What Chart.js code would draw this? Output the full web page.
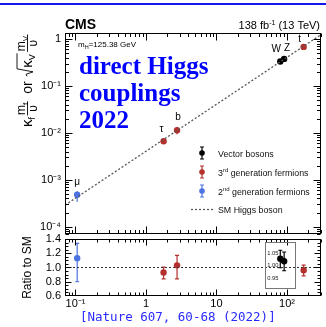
<!DOCTYPE html>
<html>
<head>
<meta charset="utf-8">
<script src="https://cdn.jsdelivr.net/npm/chart.js@4.4.0/dist/chart.umd.min.js"></script>
<style>
  body { margin: 0; background: #fff; width: 326px; height: 327px; overflow: hidden; position: relative; }
  #topline { position: absolute; left: 0; top: 3px; width: 326px; height: 2px; background: #1515f0; }
  #main { position: absolute; left: 0; top: 0; }
  #ratio { position: absolute; left: 0; top: 228px; }
  #note { position: absolute; left: 79px; top: 52px; color: #0000ff; font-family: "Liberation Serif", serif;
          font-weight: bold; font-size: 25px; line-height: 27px; }
  #ref { position: absolute; left: 80px; top: 310px; color: #2a2aff; font-family: "DejaVu Sans Mono", monospace;
         font-size: 12.5px; line-height: 14px; white-space: pre; }
</style>
</head>
<body>
<div id="topline"></div>
<canvas id="main" width="326" height="247"></canvas>
<canvas id="ratio" width="326" height="99"></canvas>
<div id="note">direct Higgs<br>couplings<br>2022</div>
<div id="ref">[Nature 607, 60-68 (2022)]</div>
<script>
// values (mass in GeV)
const vecNames = ['W', 'Z'];
const vecMass = [80.4, 91.2];
const vecCoupling = [0.330, 0.376];
const vecRatio = [1.028, 1.018];
const vecErrUp = [0.034, 0.037];
const vecErrDown = [0.036, 0.038];

const gen3Names = ['τ', 'b', 't'];
const gen3Mass = [1.777, 2.76, 172.5];
const gen3Coupling = [0.0066, 0.0114, 0.677];
const gen3Ratio = [0.93, 1.03, 0.962];
const gen3ErrUp = [0.075, 0.14, 0.07];
const gen3ErrDown = [0.09, 0.19, 0.08];

const gen2Names = ['μ'];
const gen2Mass = [0.1057];
const gen2Coupling = [0.00048];
const gen2Ratio = [1.13];
const gen2ErrUp = [0.21];
const gen2ErrDown = [0.33];

const smMass = [0.071, 304];
const smCoupling = [0.000288, 1.235];

const xTickLabels = { '-1': '10⁻¹', '0': '1', '1': '10', '2': '10²' };
const yTickLabels = { '-4': '10⁻⁴', '-3': '10⁻³', '-2': '10⁻²', '-1': '10⁻¹', '0': '1' };
const ratioTicks = [0.6, 0.8, 1.0, 1.2, 1.4];
const insetTicks = [0.95, 1.00, 1.05];

const X_MIN = 0.071, X_MAX = 304;
const Y_MIN = 7.5e-5, Y_MAX = 1.34;

const BLACK = '#000000', RED = '#b3302c', BLUE = '#4a72e0';
const SANS = '"Liberation Sans", Arial, sans-serif';
const font = (size, weight) => (weight ? weight + ' ' : '') + size + 'px ' + SANS;

function powerLabel(table) {
  return function (v) {
    const l = Math.log10(v), e = Math.round(l);
    if (Math.abs(l - e) > 1e-6) return '';
    return table[String(e)] || '';
  };
}

function points(mass, vals) {
  return mass.map((m, i) => ({ x: m, y: vals[i] }));
}

function logTicks(min, max) {
  const out = [];
  for (let e = Math.floor(Math.log10(min)); e <= Math.ceil(Math.log10(max)); e++) {
    for (let k = 1; k <= 9; k++) {
      const v = k * Math.pow(10, e);
      if (v > min && v < max) out.push({ v, major: k === 1 });
    }
  }
  return out;
}

// draws a run of text pieces with different sizes / raise
function richText(ctx, x, y, parts) {
  let u = x;
  parts.forEach(p => {
    ctx.font = font(p.s, p.w);
    ctx.fillText(p.t, u, y + (p.dy || 0));
    u += ctx.measureText(p.t).width;
  });
  return u;
}
function richWidth(ctx, parts) {
  let w = 0;
  parts.forEach(p => { ctx.font = font(p.s, p.w); w += ctx.measureText(p.t).width; });
  return w;
}

// frame with ROOT style inward ticks on the four sides
function framePlugin(cfg) {
  return {
    id: 'frame',
    afterDatasetsDraw(chart) {
      const { ctx, chartArea: a, scales } = chart;
      const L = Math.round(a.left) + 0.5, R = Math.round(a.right) - 0.5;
      const T = Math.round(a.top) + 0.5, B = Math.round(a.bottom) - 0.5;
      ctx.save();
      ctx.strokeStyle = BLACK;
      ctx.lineWidth = 1;
      ctx.strokeRect(L, T, R - L, B - T);
      ctx.beginPath();
      logTicks(scales.x.min, scales.x.max).forEach(t => {
        const px = Math.round(scales.x.getPixelForValue(t.v)) + 0.5;
        const len = t.major ? cfg.xMajor : cfg.xMinor;
        ctx.moveTo(px, B); ctx.lineTo(px, B - len);
        ctx.moveTo(px, T); ctx.lineTo(px, T + len);
      });
      cfg.yTicks(scales.y).forEach(t => {
        const py = Math.round(scales.y.getPixelForValue(t.v)) + 0.5;
        const len = t.major ? cfg.yMajor : cfg.yMinor;
        ctx.moveTo(L, py); ctx.lineTo(L + len, py);
        ctx.moveTo(R, py); ctx.lineTo(R - len, py);
      });
      ctx.stroke();
      ctx.restore();
    }
  };
}

const errorBars = {
  id: 'errorBars',
  beforeDatasetsDraw(chart) {
    const { ctx } = chart;
    chart.data.datasets.forEach((ds, i) => {
      if (!ds.errLo) return;
      const meta = chart.getDatasetMeta(i);
      const xs = chart.scales[meta.xAxisID], ys = chart.scales[meta.yAxisID];
      ctx.save();
      ctx.strokeStyle = ds.backgroundColor;
      ctx.lineWidth = 1.2;
      ds.data.forEach((p, j) => {
        const px = xs.getPixelForValue(p.x);
        const y1 = ys.getPixelForValue(ds.errHi[j]);
        const y2 = ys.getPixelForValue(ds.errLo[j]);
        ctx.beginPath();
        ctx.moveTo(px, y1); ctx.lineTo(px, y2);
        if (ds.caps) {
          ctx.moveTo(px - 2, y1); ctx.lineTo(px + 2, y1);
          ctx.moveTo(px - 2, y2); ctx.lineTo(px + 2, y2);
        }
        ctx.stroke();
      });
      ctx.restore();
    });
  }
};

const labelOffset = { 'μ': [0, -13], 'τ': [-2, -12], 'b': [1, -13], 'W': [-4, -12], 'Z': [3, -11], 't': [-4, -8] };
const pointNames = {
  id: 'pointNames',
  afterDatasetsDraw(chart) {
    const { ctx } = chart;
    ctx.save();
    ctx.fillStyle = BLACK;
    ctx.font = font(10);
    ctx.textAlign = 'center';
    ctx.textBaseline = 'middle';
    chart.data.datasets.forEach((ds, i) => {
      if (!ds.names) return;
      const meta = chart.getDatasetMeta(i);
      ds.names.forEach((n, j) => {
        const el = meta.data[j];
        const o = labelOffset[n] || [0, -12];
        ctx.fillText(n, el.x + o[0], el.y + o[1]);
      });
    });
    ctx.restore();
  }
};

function drawYTitle(ctx) {
  ctx.save();
  ctx.translate(26, 127);
  ctx.rotate(-Math.PI / 2);
  ctx.fillStyle = BLACK;
  ctx.strokeStyle = BLACK;
  ctx.lineWidth = 0.9;
  ctx.textBaseline = 'alphabetic';
  let u = 0;
  const frac = (sub) => {
    ctx.font = font(12);
    const wm = ctx.measureText('m').width;
    ctx.font = font(8);
    const ws = ctx.measureText(sub).width;
    const w = wm + ws + 1;
    ctx.font = font(12);
    ctx.fillText('m', u, -1);
    ctx.font = font(8);
    ctx.fillText(sub, u + wm, 1.5);
    ctx.beginPath(); ctx.moveTo(u - 0.5, 1.5); ctx.lineTo(u + w + 0.5, 1.5); ctx.stroke();
    ctx.font = font(12);
    const wu = ctx.measureText('υ').width;
    ctx.fillText('υ', u + (w - wu) / 2, 10.5);
    u += w;
  };
  ctx.font = font(15); ctx.fillText('κ', u, 6); u += ctx.measureText('κ').width;
  ctx.font = font(9); ctx.fillText('f', u, 9); u += ctx.measureText('f').width + 2;
  frac('f');
  u += 8;
  ctx.font = font(14); ctx.fillText('or', u, 6); u += ctx.measureText('or').width + 5;
  // square root of kappa_V
  const r0 = u;
  ctx.font = font(15);
  const wk = ctx.measureText('κ').width;
  ctx.font = font(9);
  const wv = ctx.measureText('V').width;
  ctx.beginPath();
  ctx.moveTo(r0, 1); ctx.lineTo(r0 + 2, 0); ctx.lineTo(r0 + 4.5, 7); ctx.lineTo(r0 + 7.5, -9);
  ctx.lineTo(r0 + 8 + wk + wv + 1.5, -9);
  ctx.stroke();
  u = r0 + 8.5;
  ctx.font = font(15); ctx.fillText('κ', u, 6); u += wk;
  ctx.font = font(9); ctx.fillText('V', u, 9); u += wv + 3;
  frac('V');
  ctx.restore();
}

const mainTexts = {
  id: 'mainTexts',
  afterDraw(chart) {
    const { ctx, chartArea: a } = chart;
    ctx.save();
    ctx.fillStyle = BLACK;
    ctx.textBaseline = 'alphabetic';
    ctx.textAlign = 'left';
    ctx.font = font(14, 'bold');
    ctx.fillText('CMS', a.left, a.top - 4);
    const lumi = [{ t: '138 fb', s: 11 }, { t: '-1', s: 7, dy: -4.5 }, { t: ' (13 TeV)', s: 11 }];
    richText(ctx, a.right - 1 - richWidth(ctx, lumi), a.top - 4, lumi);
    richText(ctx, a.left + 13, a.top + 14, [{ t: 'm', s: 8 }, { t: 'H', s: 5.5, dy: 1.5 }, { t: '=125.38 GeV', s: 8 }]);
    drawYTitle(ctx);

    // legend
    const fs = 8.8;
    const rows = [
      { c: BLACK, parts: [{ t: 'Vector bosons', s: fs }] },
      { c: RED, parts: [{ t: '3', s: fs }, { t: 'rd', s: 6, dy: -3.5 }, { t: ' generation fermions', s: fs }] },
      { c: BLUE, parts: [{ t: '2', s: fs }, { t: 'nd', s: 6, dy: -3.5 }, { t: ' generation fermions', s: fs }] }
    ];
    const mx = 202, tx = 218;
    rows.forEach((r, i) => {
      const y = 153 + i * 19;
      ctx.strokeStyle = r.c; ctx.fillStyle = r.c; ctx.lineWidth = 1.2;
      ctx.beginPath();
      ctx.moveTo(mx, y - 6); ctx.lineTo(mx, y + 6);
      ctx.moveTo(mx - 2, y - 6); ctx.lineTo(mx + 2, y - 6);
      ctx.moveTo(mx - 2, y + 6); ctx.lineTo(mx + 2, y + 6);
      ctx.stroke();
      ctx.beginPath(); ctx.arc(mx, y, 2.8, 0, 2 * Math.PI); ctx.fill();
      ctx.fillStyle = '#111';
      richText(ctx, tx, y + 3.5, r.parts);
    });
    const ly = 209.5;
    ctx.strokeStyle = '#555'; ctx.lineWidth = 1.2; ctx.setLineDash([2, 2]);
    ctx.beginPath(); ctx.moveTo(191, ly); ctx.lineTo(213, ly); ctx.stroke();
    ctx.setLineDash([]);
    ctx.fillStyle = '#111';
    richText(ctx, tx, ly + 3.5, [{ t: 'SM Higgs boson', s: fs }]);
    ctx.restore();
  }
};

function withErr(mass, vals, ratio, up, down, scaleToVals) {
  return {
    data: points(mass, vals),
    errHi: vals.map((v, i) => scaleToVals ? v * (ratio[i] + up[i]) / ratio[i] : v + up[i]),
    errLo: vals.map((v, i) => scaleToVals ? v * (ratio[i] - down[i]) / ratio[i] : v - down[i])
  };
}

function pointSet(color, names, parts, extra) {
  return Object.assign({
    type: 'scatter', names, backgroundColor: color, borderColor: color, borderWidth: 0,
    pointRadius: 3.2, pointHoverRadius: 3.2
  }, parts, extra || {});
}

// ---------- main panel ----------
new Chart(document.getElementById('main'), {
  type: 'scatter',
  data: {
    datasets: [
      {
        type: 'line', data: points(smMass, smCoupling), borderColor: '#555', borderWidth: 1.3,
        borderDash: [2, 2], pointRadius: 0, fill: false, tension: 0
      },
      pointSet(BLACK, vecNames, withErr(vecMass, vecCoupling, vecRatio, vecErrUp, vecErrDown, true)),
      pointSet(RED, gen3Names, withErr(gen3Mass, gen3Coupling, gen3Ratio, gen3ErrUp, gen3ErrDown, true)),
      pointSet(BLUE, gen2Names, withErr(gen2Mass, gen2Coupling, gen2Ratio, gen2ErrUp, gen2ErrDown, true))
    ]
  },
  options: {
    responsive: false, animation: false, devicePixelRatio: 1,
    layout: { padding: { left: 0, top: 33, right: 5, bottom: 13 } },
    plugins: { legend: { display: false }, tooltip: { enabled: false } },
    scales: {
      x: { type: 'logarithmic', min: X_MIN, max: X_MAX, display: false },
      y: {
        type: 'logarithmic', min: Y_MIN, max: Y_MAX,
        afterFit(s) { s.width = 65; },
        grid: { display: false, drawTicks: false }, border: { display: false },
        ticks: { autoSkip: false, padding: 4, color: BLACK, font: { size: 11, family: SANS }, callback: powerLabel(yTickLabels) }
      }
    }
  },
  plugins: [errorBars, framePlugin({
    xMajor: 7, xMinor: 3.5, yMajor: 7, yMinor: 3.5,
    yTicks: s => logTicks(s.min, s.max)
  }), pointNames, mainTexts]
});

// ---------- ratio panel ----------
const insetBox = {
  id: 'insetBox',
  afterDatasetsDraw(chart) {
    const { ctx, scales } = chart;
    const x0 = Math.round(scales.x.getPixelForValue(48.7)) + 0.5;
    const x1 = Math.round(scales.x.getPixelForValue(130)) + 0.5;
    const y0 = Math.round(scales.y2.getPixelForValue(1.095)) + 0.5;
    const y1 = Math.round(scales.y2.getPixelForValue(0.912)) + 0.5;
    ctx.save();
    ctx.strokeStyle = '#777'; ctx.lineWidth = 1;
    ctx.strokeRect(x0, y0, x1 - x0, y1 - y0);
    ctx.fillStyle = '#222';
    ctx.font = font(5.8);
    ctx.textAlign = 'right';
    ctx.textBaseline = 'middle';
    insetTicks.forEach(v => ctx.fillText(v.toFixed(2), x0 + 13, scales.y2.getPixelForValue(v)));
    ctx.restore();
  }
};

new Chart(document.getElementById('ratio'), {
  type: 'scatter',
  data: {
    datasets: [
      {
        type: 'line', data: points([X_MIN, X_MAX], [1, 1]), borderColor: '#333', borderWidth: 1.2,
        borderDash: [2, 2], pointRadius: 0, fill: false
      },
      pointSet(BLACK, null, withErr(vecMass, vecRatio, vecRatio, vecErrUp, vecErrDown, false), { yAxisID: 'y2', caps: true }),
      pointSet(RED, null, withErr(gen3Mass, gen3Ratio, gen3Ratio, gen3ErrUp, gen3ErrDown, false), { caps: true }),
      pointSet(BLUE, null, withErr(gen2Mass, gen2Ratio, gen2Ratio, gen2ErrUp, gen2ErrDown, false), { caps: true })
    ]
  },
  options: {
    responsive: false, animation: false, devicePixelRatio: 1,
    layout: { padding: { left: 0, top: 11, right: 5, bottom: 0 } },
    plugins: { legend: { display: false }, tooltip: { enabled: false } },
    scales: {
      x: {
        type: 'logarithmic', min: X_MIN, max: X_MAX,
        afterFit(s) { s.height = 31; },
        grid: { display: false, drawTicks: false }, border: { display: false },
        ticks: { autoSkip: false, maxRotation: 0, padding: 1, color: BLACK, font: { size: 11, family: SANS }, callback: powerLabel(xTickLabels) }
      },
      y: {
        min: 0.6, max: 1.4,
        afterFit(s) { s.width = 65; },
        afterBuildTicks(s) { s.ticks = ratioTicks.map(v => ({ value: v })); },
        grid: { display: false, drawTicks: false }, border: { display: false },
        title: { display: true, text: 'Ratio to SM', color: BLACK, font: { size: 12, family: SANS }, padding: { top: 20 } },
        ticks: { autoSkip: false, padding: 4, color: BLACK, font: { size: 11, family: SANS }, callback: v => v.toFixed(1) }
      },
      y2: { min: 0.879, max: 1.107, display: false }
    }
  },
  plugins: [errorBars, framePlugin({
    xMajor: 6, xMinor: 3, yMajor: 6, yMinor: 3,
    yTicks: s => {
      const out = [];
      for (let k = 0; k <= 16; k++) out.push({ v: 0.6 + k * 0.05, major: k % 4 === 0 });
      return out.filter(t => t.v > 0.601 && t.v < 1.399);
    }
  }), insetBox]
});
</script>
</body>
</html>
